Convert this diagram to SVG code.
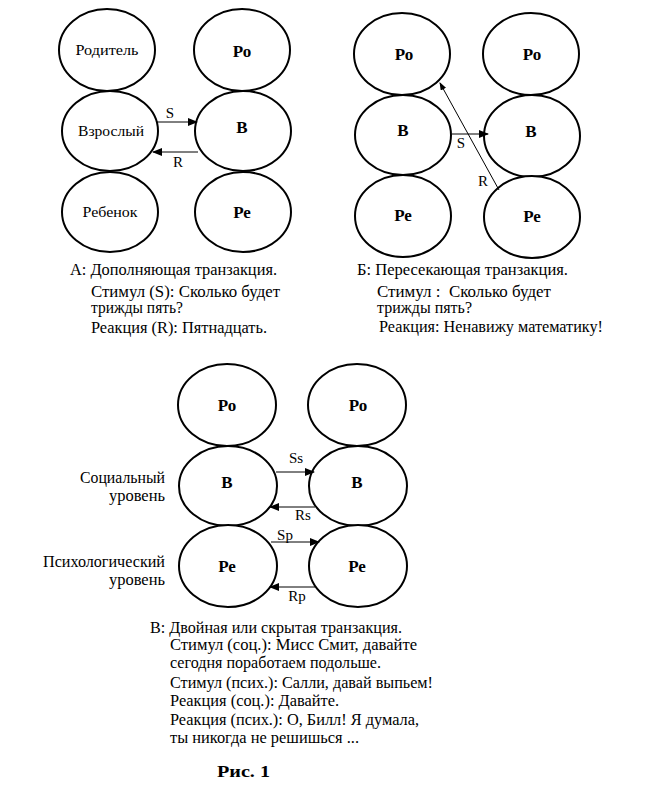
<svg xmlns="http://www.w3.org/2000/svg" width="662" height="789" viewBox="0 0 662 789" font-family="'Liberation Serif', 'DejaVu Serif', serif">
<defs>
<marker id="ah" markerWidth="10" markerHeight="8" refX="9" refY="4" orient="auto" markerUnits="userSpaceOnUse">
<path d="M0,0 L10,4 L0,8 Z" fill="#000"/>
</marker>
<marker id="ahs" markerWidth="8" markerHeight="6" refX="7" refY="3" orient="auto" markerUnits="userSpaceOnUse">
<path d="M0,0 L8,3 L0,6 Z" fill="#000"/>
</marker>
</defs>
<style>
ellipse{fill:#fff;stroke:#000;stroke-width:2}
text{font-family:'Liberation Serif','DejaVu Serif',serif;fill:#000}
.n{font-size:17px;font-weight:bold;text-anchor:middle}
.w{font-size:15px;text-anchor:middle}
.l{font-size:15px;text-anchor:middle}
.c{font-size:16px}
.r{font-size:16px;text-anchor:end}
line{stroke:#000;stroke-width:1}
.a{marker-end:url(#ah)}
</style>
<rect width="662" height="789" fill="#fff"/>

<!-- Panel A -->
<g id="a-parent"><ellipse cx="107" cy="50" rx="48" ry="41"/><text class="w" x="107" y="55" textLength="63" lengthAdjust="spacingAndGlyphs">Родитель</text></g>
<g id="a-adult"><ellipse cx="110" cy="131" rx="48" ry="40"/><text class="w" x="111" y="136" textLength="66" lengthAdjust="spacingAndGlyphs">Взрослый</text></g>
<g id="a-child"><ellipse cx="110" cy="212" rx="48" ry="40"/><text class="w" x="110" y="217" textLength="55" lengthAdjust="spacingAndGlyphs">Ребенок</text></g>
<g id="a-ro"><ellipse cx="242" cy="50" rx="48" ry="41"/><text class="n" x="242" y="57">Ро</text></g>
<g id="a-v"><ellipse cx="243" cy="131" rx="48" ry="40"/><text class="n" x="242" y="133">В</text></g>
<g id="a-re"><ellipse cx="243" cy="212" rx="48" ry="40"/><text class="n" x="242" y="218">Ре</text></g>

<!-- Panel B -->
<g id="b-ro1"><ellipse cx="402" cy="54" rx="48" ry="41"/><text class="n" x="404" y="60">Ро</text></g>
<g id="b-v1"><ellipse cx="403" cy="135" rx="48" ry="40"/><text class="n" x="403" y="136">В</text></g>
<g id="b-re1"><ellipse cx="403" cy="216" rx="48" ry="41"/><text class="n" x="403" y="221">Ре</text></g>
<g id="b-ro2"><ellipse cx="531" cy="54" rx="48" ry="41"/><text class="n" x="532" y="60">Ро</text></g>
<g id="b-v2"><ellipse cx="532" cy="136" rx="48" ry="41"/><text class="n" x="531" y="137">В</text></g>
<g id="b-re2"><ellipse cx="532" cy="217" rx="48" ry="41"/><text class="n" x="532" y="222">Ре</text></g>

<!-- Panel C -->
<g id="c-ro1"><ellipse cx="227" cy="405" rx="49" ry="41"/><text class="n" x="227" y="411">Ро</text></g>
<g id="c-v1"><ellipse cx="228" cy="486" rx="49" ry="40"/><text class="n" x="227" y="488">В</text></g>
<g id="c-re1"><ellipse cx="228" cy="566" rx="49" ry="41"/><text class="n" x="227" y="572">Ре</text></g>
<g id="c-ro2"><ellipse cx="357" cy="405" rx="49" ry="41"/><text class="n" x="358" y="411">Ро</text></g>
<g id="c-v2"><ellipse cx="358" cy="486" rx="49" ry="40"/><text class="n" x="357" y="488">В</text></g>
<g id="c-re2"><ellipse cx="358" cy="566" rx="49" ry="41"/><text class="n" x="357" y="572">Ре</text></g>

<!-- Connectors -->
<g id="connectors">
<line class="a" x1="157" y1="122" x2="197" y2="122"/>
<text class="l" x="170" y="118">S</text>
<line class="a" x1="198" y1="152" x2="153" y2="152"/>
<text class="l" x="178" y="167">R</text>

<line class="a" x1="452" y1="134" x2="488" y2="134"/>
<text class="l" x="461" y="148">S</text>
<line x1="499" y1="190" x2="440" y2="83" style="marker-end:url(#ahs)"/>
<text class="l" x="483" y="186">R</text>

<line class="a" x1="276" y1="472" x2="314" y2="472"/>
<text class="l" x="296" y="463">Ss</text>
<line class="a" x1="315" y1="507" x2="270" y2="507"/>
<text class="l" x="303" y="520">Rs</text>
<line class="a" x1="271" y1="542" x2="319" y2="542"/>
<text class="l" x="285" y="540">Sp</text>
<line class="a" x1="315" y1="587" x2="270" y2="587"/>
<text class="l" x="297" y="601">Rp</text>
</g>

<!-- Side labels -->
<text class="r" x="165" y="483" textLength="85" lengthAdjust="spacingAndGlyphs">Социальный</text>
<text class="r" x="165" y="501" textLength="56" lengthAdjust="spacingAndGlyphs">уровень</text>
<text class="r" x="165" y="567" textLength="122" lengthAdjust="spacingAndGlyphs">Психологический</text>
<text class="r" x="165" y="585" textLength="56" lengthAdjust="spacingAndGlyphs">уровень</text>

<!-- Captions -->
<g id="caption-a">
<text class="c" x="70" y="275" textLength="207" lengthAdjust="spacingAndGlyphs">А: Дополняющая транзакция.</text>
<text class="c" x="91" y="297" textLength="189" lengthAdjust="spacingAndGlyphs">Стимул (S): Сколько будет</text>
<text class="c" x="91" y="313" textLength="92" lengthAdjust="spacingAndGlyphs">трижды пять?</text>
<text class="c" x="91" y="333" textLength="176" lengthAdjust="spacingAndGlyphs">Реакция (R): Пятнадцать.</text>
</g>
<g id="caption-b">
<text class="c" x="357" y="275" textLength="211" lengthAdjust="spacingAndGlyphs">Б: Пересекающая транзакция.</text>
<text class="c" x="377" y="297" xml:space="preserve" textLength="174" lengthAdjust="spacingAndGlyphs">Стимул :  Сколько будет</text>
<text class="c" x="377" y="313" textLength="95" lengthAdjust="spacingAndGlyphs">трижды пять?</text>
<text class="c" x="379" y="332" textLength="224" lengthAdjust="spacingAndGlyphs">Реакция: Ненавижу математику!</text>
</g>
<g id="caption-c">
<text class="c" x="150" y="633" textLength="252" lengthAdjust="spacingAndGlyphs">В: Двойная или скрытая транзакция.</text>
<text class="c" x="170" y="650" textLength="247" lengthAdjust="spacingAndGlyphs">Стимул (соц.): Мисс Смит, давайте</text>
<text class="c" x="170" y="668" textLength="211" lengthAdjust="spacingAndGlyphs">сегодня поработаем подольше.</text>
<text class="c" x="170" y="688" textLength="263" lengthAdjust="spacingAndGlyphs">Стимул (псих.): Салли, давай выпьем!</text>
<text class="c" x="170" y="706" textLength="169" lengthAdjust="spacingAndGlyphs">Реакция (соц.): Давайте.</text>
<text class="c" x="170" y="725" textLength="249" lengthAdjust="spacingAndGlyphs">Реакция (псих.): О, Билл! Я думала,</text>
<text class="c" x="170" y="743" textLength="189" lengthAdjust="spacingAndGlyphs">ты никогда не решишься ...</text>
<text x="217" y="777" style="font-size:16px;font-weight:bold" textLength="53" lengthAdjust="spacingAndGlyphs">Рис. 1</text>
</g>
</svg>
